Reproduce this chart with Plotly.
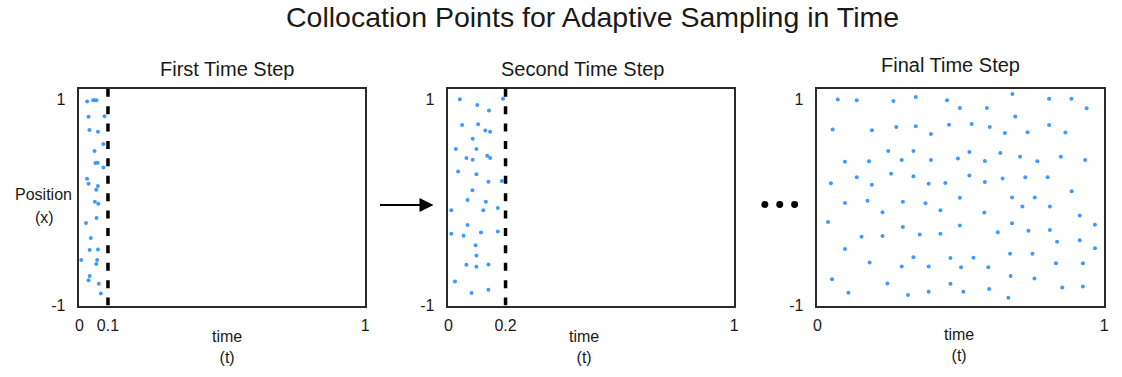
import plotly.graph_objects as go

# ---- data -------------------------------------------------------------
# Sampling boundaries (time) for the first two steps
t_first = 0.1
t_second = 0.2

# First time step: collocation points restricted to t <= 0.1
first_t = [0.027, 0.048, 0.054, 0.060, 0.032, 0.088, 0.035, 0.065,
           0.084, 0.053, 0.056, 0.064, 0.084, 0.027, 0.032, 0.065,
           0.059, 0.054, 0.066, 0.060, 0.023, 0.040, 0.036, 0.065,
           0.006, 0.062, 0.059, 0.036, 0.032, 0.068, 0.075]
first_x = [0.978, 0.990, 0.990, 0.990, 0.829, 0.835, 0.702, 0.683,
           0.565, 0.498, 0.381, 0.384, 0.337, 0.229, 0.181, 0.159,
           0.121, 0.006, -0.013, -0.152, -0.200, -0.346, -0.463, -0.457,
           -0.559, -0.559, -0.597, -0.714, -0.756, -0.790, -0.883]

# Second time step: collocation points restricted to t <= 0.2
second_t = [0.040, 0.191, 0.101, 0.142, 0.048, 0.104, 0.129, 0.146,
            0.085, 0.026, 0.098, 0.063, 0.085, 0.136, 0.146, 0.034,
            0.098, 0.140, 0.187, 0.084, 0.067, 0.131, 0.010, 0.122,
            0.173, 0.067, 0.010, 0.053, 0.114, 0.173, 0.095, 0.098,
            0.063, 0.098, 0.140, 0.023, 0.081, 0.140]
second_x = [1.000, 1.005, 0.943, 0.889, 0.749, 0.756, 0.695, 0.683,
            0.616, 0.517, 0.517, 0.429, 0.413, 0.451, 0.429, 0.298,
            0.273, 0.200, 0.206, 0.117, 0.022, 0.006, -0.076, -0.076,
            -0.054, -0.219, -0.305, -0.324, -0.292, -0.283, -0.416, -0.514,
            -0.606, -0.625, -0.603, -0.768, -0.879, -0.848]

# Final time step: collocation points over the whole domain
final_t = [0.071, 0.137, 0.265, 0.343, 0.452, 0.053, 0.190, 0.275, 0.343,
           0.396, 0.459, 0.247, 0.335, 0.096, 0.180, 0.294, 0.396, 0.257,
           0.137, 0.335, 0.047, 0.190, 0.388, 0.446, 0.096, 0.175, 0.298,
           0.377, 0.227, 0.429, 0.037, 0.298, 0.154, 0.227, 0.357, 0.429,
           0.096, 0.335, 0.464, 0.182, 0.294, 0.388, 0.051, 0.244, 0.464,
           0.108, 0.316, 0.388,
           0.680, 0.808, 0.886, 0.497, 0.591, 0.939, 0.690, 0.538, 0.601,
           0.654, 0.733, 0.808, 0.865, 0.530, 0.638, 0.490, 0.584, 0.707,
           0.767, 0.849, 0.934, 0.530, 0.584, 0.646, 0.725, 0.803, 0.497,
           0.679, 0.758, 0.887, 0.715, 0.811, 0.582, 0.915, 0.497, 0.679,
           0.629, 0.736, 0.811, 0.968, 0.836, 0.915, 0.968, 0.544, 0.672,
           0.750, 0.501, 0.596, 0.832, 0.926, 0.674, 0.757, 0.509, 0.599,
           0.666, 0.854, 0.926]
final_x = [0.997, 0.990, 0.981, 1.022, 0.990, 0.705, 0.698, 0.730, 0.737,
           0.663, 0.752, 0.498, 0.498, 0.394, 0.397, 0.410, 0.410, 0.276,
           0.244, 0.254, 0.184, 0.171, 0.181, 0.187, -0.006, 0.016, 0.006,
           -0.010, -0.095, -0.076, -0.190, -0.238, -0.333, -0.327, -0.311, -0.305,
           -0.451, -0.533, -0.540, -0.584, -0.622, -0.622, -0.746, -0.787, -0.790,
           -0.876, -0.898, -0.867,
           1.051, 1.003, 1.003, 0.914, 0.914, 0.911, 0.832, 0.759, 0.730,
           0.673, 0.679, 0.749, 0.676, 0.489, 0.479, 0.425, 0.400, 0.441,
           0.397, 0.441, 0.410, 0.260, 0.197, 0.232, 0.244, 0.244, 0.044,
           0.048, 0.048, 0.108, -0.041, -0.041, -0.098, -0.127, -0.225, -0.203,
           -0.289, -0.276, -0.267, -0.216, -0.381, -0.368, -0.444, -0.537, -0.498,
           -0.498, -0.629, -0.629, -0.590, -0.590, -0.714, -0.737, -0.867, -0.841,
           -0.924, -0.825, -0.816]

panel_titles = ["First Time Step", "Second Time Step", "Final Time Step"]
x_ticks = [[0, t_first, 1], [0, t_second, 1], [0, 1]]
x_ticktext = [["0", "0.1", "1"], ["0", "0.2", "1"], ["0", "1"]]
y_ticks = [-1, 1]
y_ticktext = ["-1", "1"]

# ---- styling ----------------------------------------------------------
W, H = 1122, 377
FONT = "Liberation Sans, Arial, Helvetica, sans-serif"
INK = "#1a1a1a"
DOT = "#3d9bff"
FRAME = "#2b2b2b"


def px(x):
    return x / W


def py(y):
    return 1 - y / H


domains_x = [[px(76), px(364)], [px(448), px(736)], [px(820), px(1109)]]
domain_y = [py(313), py(91)]

fig = go.Figure()

series = [(first_t, first_x), (second_t, second_x), (final_t, final_x)]
for i, (tt, xx) in enumerate(series):
    suffix = "" if i == 0 else str(i + 1)
    fig.add_trace(go.Scatter(
        x=tt, y=xx, mode="markers",
        marker=dict(size=4, color=DOT, line=dict(width=0)),
        xaxis="x" + suffix, yaxis="y" + suffix,
        showlegend=False, hoverinfo="skip",
    ))
    axis_common = dict(showline=True, mirror=True, linecolor=FRAME, linewidth=1.5,
                       showgrid=False, zeroline=False, ticks="",
                       tickfont=dict(family=FONT, size=16, color=INK))
    fig.layout["xaxis" + suffix] = dict(
        domain=domains_x[i], range=[0, 1], anchor="y" + suffix,
        tickmode="array", tickvals=x_ticks[i], ticktext=x_ticktext[i],
        ticklabelstandoff=5, **axis_common)
    fig.layout["yaxis" + suffix] = dict(
        domain=domain_y, range=[-1, 1.1], anchor="x" + suffix,
        tickmode="array", tickvals=y_ticks, ticktext=y_ticktext,
        ticklabelstandoff=9, **axis_common)

# dashed time boundaries
dash_pattern = "8px,9.4px"
for t_val, xr, yr in [(t_first, "x", "y"), (t_second, "x2", "y2")]:
    fig.add_shape(type="line", xref=xr, yref=yr, x0=t_val, x1=t_val,
                  y0=-1, y1=1.1, line=dict(color="black", width=3.5, dash=dash_pattern))

annotations = [
    dict(text="Collocation Points for Adaptive Sampling in Time", x=px(593), y=py(17),
         font=dict(size=28.5)),
    dict(text=panel_titles[0], x=px(225), y=py(71), font=dict(size=20)),
    dict(text=panel_titles[1], x=px(583), y=py(71), font=dict(size=20)),
    dict(text=panel_titles[2], x=px(954), y=py(67), font=dict(size=20)),
    dict(text="Position", x=px(40), y=py(199), font=dict(size=16)),
    dict(text="(x)", x=px(41), y=py(223), font=dict(size=16)),
    dict(text="time<br>(t)", x=px(225), y=py(355), font=dict(size=16)),
    dict(text="time<br>(t)", x=px(585), y=py(355), font=dict(size=16)),
    dict(text="time<br>(t)", x=px(963), y=py(353), font=dict(size=16)),
]
for a in annotations:
    a.update(xref="paper", yref="paper", showarrow=False,
             xanchor="center", yanchor="middle")
    a["font"].update(family=FONT, color=INK)
    fig.add_annotation(**a)

# arrow from the first panel to the second
fig.add_annotation(x=px(433), y=py(210), ax=-55, ay=0, xref="paper", yref="paper",
                   text="", showarrow=True, arrowhead=2, arrowsize=1.4,
                   arrowwidth=2, arrowcolor="black")

# ellipsis between the second and final panels
for cx in [767, 782, 797]:
    fig.add_shape(type="circle", xref="paper", yref="paper",
                  x0=px(cx - 3.5), x1=px(cx + 3.5), y0=py(209.5 + 3.5), y1=py(209.5 - 3.5),
                  fillcolor="black", line=dict(width=0))

fig.update_layout(width=W, height=H, autosize=False,
                  margin=dict(l=0, r=0, t=0, b=0, pad=0),
                  paper_bgcolor="white", plot_bgcolor="white",
                  font=dict(family=FONT, color=INK))

fig.write_html("out.html", config={"responsive": False})
